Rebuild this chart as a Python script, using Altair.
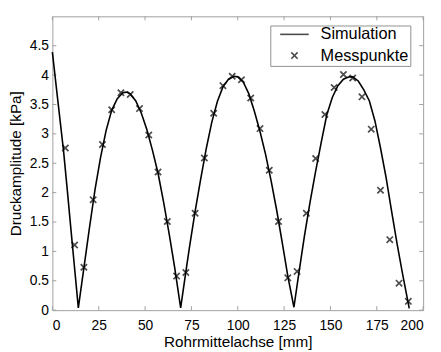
import altair as alt
import pandas as pd

# Simulation curve
sim_x = [0, 3, 6, 8, 10, 12, 14, 17, 20, 23, 26, 29, 32, 35, 38, 40, 42, 45, 48, 51,
         54, 57, 60, 63, 66, 69.2, 72, 74, 77, 80, 83, 86, 89, 92, 95, 98, 100, 103,
         106, 109, 112, 115, 118, 121, 124, 127, 130.3, 133, 136, 139, 142, 145, 148,
         151, 154, 157, 160, 162, 165, 168, 171, 174, 177, 180, 183, 186, 189, 192.5]
sim_y = [4.39, 3.55, 2.72, 2.06, 1.38, 0.71, 0.04, 0.72, 1.40, 2.05, 2.60, 3.06, 3.40,
         3.60, 3.70, 3.71, 3.68, 3.56, 3.35, 3.07, 2.72, 2.33, 1.84, 1.30, 0.72, 0.04,
         0.65, 1.08, 1.68, 2.23, 2.75, 3.20, 3.55, 3.80, 3.93, 3.98, 3.97, 3.88, 3.68,
         3.38, 3.04, 2.65, 2.20, 1.70, 1.15, 0.58, 0.05, 0.64, 1.27, 1.84, 2.36, 2.85,
         3.32, 3.62, 3.82, 3.93, 3.97, 3.97, 3.90, 3.75, 3.56, 3.22, 2.76, 2.26, 1.68,
         1.12, 0.60, 0.03]

# Measurement points
meas_x = [7, 12, 17, 22, 27, 32, 37, 42, 47, 52, 57, 62, 67, 72, 77, 82, 87, 92, 97,
          102, 107, 112, 117, 122, 127, 132, 137, 142, 147, 152, 157, 162, 167, 172,
          177, 182, 187, 192]
meas_y = [2.76, 1.11, 0.73, 1.88, 2.82, 3.41, 3.70, 3.67, 3.43, 2.98, 2.35, 1.51, 0.58,
          0.64, 1.65, 2.59, 3.35, 3.82, 3.98, 3.92, 3.61, 3.09, 2.38, 1.51, 0.55, 0.66,
          1.65, 2.58, 3.33, 3.79, 4.01, 3.95, 3.63, 3.08, 2.04, 1.20, 0.46, 0.15]

x_ticks = [0, 25, 50, 75, 100, 125, 150, 175, 200]
y_ticks = [0, 0.5, 1, 1.5, 2, 2.5, 3, 3.5, 4, 4.5]
series_names = ["Simulation", "Messpunkte"]

W, H = 376, 298
FONT = "Liberation Sans"
FRAME = "#a0a0a0"
LINEPATH = "M-1,0L1,0"
XPATH = "M-1,0L-1,0M1,0L1,0M-0.22,-0.22L0.22,0.22M0.22,-0.22L-0.22,0.22"

sim = pd.DataFrame({"x": sim_x, "y": sim_y})
meas = pd.DataFrame({"x": meas_x, "y": meas_y, "series": ["Messpunkte"] * len(meas_x)})
xt = pd.DataFrame({"x": x_ticks})
yt = pd.DataFrame({"y": y_ticks})

xscale = alt.Scale(domain=[0, 200], nice=False, zero=False)
yscale = alt.Scale(domain=[0, 5], nice=False)
xaxis = alt.Axis(title="Rohrmittelachse [mm]", values=x_ticks, labelPadding=9,
                 titlePadding=2)
yaxis = alt.Axis(title="Druckamplitude [kPa]", values=y_ticks, format="~g",
                 labelPadding=4, titlePadding=6)
X = alt.X("x:Q", scale=xscale, axis=xaxis)
Y = alt.Y("y:Q", scale=yscale, axis=yaxis)

line = alt.Chart(sim).mark_line(color="black", strokeWidth=1.6).encode(x=X, y=Y)

leg = alt.Legend(title=None, orient="none", legendX=221, legendY=9.3,
                 padding=2, symbolOffset=7, labelOffset=11, rowPadding=4.5,
                 clipHeight=14, symbolSize=841, labelFont=FONT, labelFontSize=16.5,
                 labelColor="black", strokeColor="#909090", fillColor="white",
                 symbolStrokeColor="black", symbolStrokeWidth=1.6,
                 labelExpr="datum.label + '  '")

points = alt.Chart(meas).mark_point(filled=False, color="black", strokeWidth=1.7,
                                    size=841, strokeCap="butt").encode(
    x=X, y=Y,
    shape=alt.Shape("series:N", scale=alt.Scale(domain=series_names, range=[LINEPATH, XPATH]), legend=leg),
)

tb = alt.Chart(xt).mark_rule(color=FRAME).encode(x=X, y=alt.value(H), y2=alt.value(H - 4))
tt = alt.Chart(xt).mark_rule(color=FRAME).encode(x=X, y=alt.value(0), y2=alt.value(4))
tl = alt.Chart(yt).mark_rule(color=FRAME).encode(y=Y, x=alt.value(0), x2=alt.value(4))
tr = alt.Chart(yt).mark_rule(color=FRAME).encode(y=Y, x=alt.value(W), x2=alt.value(W - 4))

chart = alt.layer(tb, tt, tl, tr, line, points).properties(
    width=W, height=H,
    autosize=alt.AutoSizeParams(type="none"),
    padding={"left": 45, "top": 6, "right": 10, "bottom": 42},
).configure_view(
    stroke=FRAME, strokeWidth=1
).configure_axis(
    labelFont=FONT, labelFontSize=14, labelColor="black",
    titleFont=FONT, titleFontSize=15.5, titleFontWeight="normal", titleColor="black",
    domain=False, ticks=False, tickSize=0, grid=False
)

chart.save("out.html", embed_options={"renderer": "svg", "actions": False})
